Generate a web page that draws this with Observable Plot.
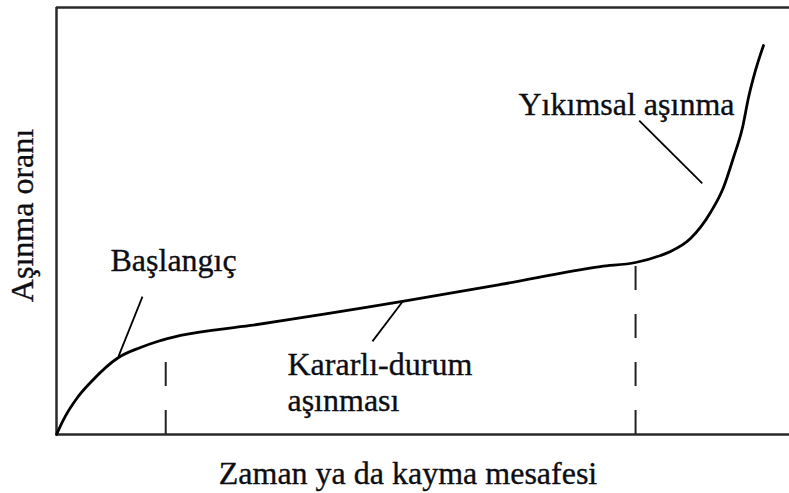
<!DOCTYPE html>
<html>
<head>
<meta charset="utf-8">
<script src="https://cdn.jsdelivr.net/npm/d3@7"></script>
<script src="https://cdn.jsdelivr.net/npm/@observablehq/plot@0.6"></script>
<style>
  html, body { margin: 0; padding: 0; background: #fff; }
  #chart svg { display: block; }
</style>
</head>
<body>
<div id="chart"></div>
<script>
// Wear curve: running-in, steady-state and severe wear (relative units)
const wearX = [0, 0.82, 2.86, 4.64, 8.46, 11.46, 13.78, 16.92, 26.47, 47.2, 60.57, 74.22, 79.0, 82.4, 83.77, 86.49, 89.22, 90.99, 92.36, 93.59, 94.41, 95.36, 96.45];
const wearY = [0, 3.04, 8.67, 12.18, 18.03, 20.37, 21.78, 23.19, 25.53, 31.15, 35.13, 39.34, 40.28, 41.92, 42.86, 45.9, 51.99, 57.85, 64.87, 71.9, 78.92, 85.25, 91.1];

// Phase boundaries (dashed verticals) and the curve height there
const boundaryX = [14.9, 79.0];
const boundaryTop = [22.2, 40.28];

// Phase labels
const phaseLabels = ["Başlangıç", "Yıkımsal aşınma", "Kararlı-durum\naşınması"];
const phaseLabelX = [7.37, 63.03, 31.51];
const phaseLabelY = [44.19, 80.73, 19.84];

// Leader lines from each label to the curve
const leaderX1 = [11.73, 79.5, 47.2];
const leaderY1 = [32.3, 73.5, 31.1];
const leaderX2 = [8.46, 88.1, 43.1];
const leaderY2 = [18.3, 58.8, 21.8];

const xTitle = "Zaman ya da kayma mesafesi";
const yTitle = "Aşınma oranı";

const curve = wearX.map((x, i) => ({x, y: wearY[i]}));
const bounds = boundaryX.map((x, i) => ({x, top: boundaryTop[i]}));
const labels = phaseLabels.map((t, i) => ({t, x: phaseLabelX[i], y: phaseLabelY[i]}));
const leaders = leaderX1.map((x1, i) => ({x1, y1: leaderY1[i], x2: leaderX2[i], y2: leaderY2[i]}));

const ink = "#0d0d14";
const serif = "Liberation Serif";
const textStyle = {fontSize: 32, fontFamily: serif, fill: ink, stroke: ink, strokeWidth: 0.35};

const chart = Plot.plot({
  width: 789,
  height: 493,
  marginLeft: 56,
  marginRight: 0,
  marginTop: 7,
  marginBottom: 59,
  style: {background: "#fff"},
  x: {domain: [0, 100], axis: null},
  y: {domain: [0, 100], axis: null},
  marks: [
    // frame: left, bottom and top edges
    Plot.ruleX([0], {stroke: "#2a2a2a", strokeWidth: 2.5}),
    Plot.ruleY([0], {stroke: "#2a2a2a", strokeWidth: 2.5}),
    Plot.ruleY([100], {stroke: "#2a2a2a", strokeWidth: 2.5}),
    // dashed phase boundaries, drawn upward from the baseline
    Plot.ruleX(bounds, {x: "x", y1: 0, y2: "top", stroke: "#222", strokeWidth: 2, strokeDasharray: "24,24"}),
    // wear curve
    Plot.line(curve, {x: "x", y: "y", curve: "monotone-x", stroke: "#000", strokeWidth: 2.8}),
    // leaders
    Plot.link(leaders, {x1: "x1", y1: "y1", x2: "x2", y2: "y2", stroke: "#000", strokeWidth: 1.8}),
    // phase labels
    Plot.text(labels, {x: "x", y: "y", text: "t", textAnchor: "start", lineAnchor: "top", lineHeight: 1.125, ...textStyle}),
    // axis titles
    Plot.text([xTitle], {frameAnchor: "bottom", textAnchor: "middle", lineAnchor: "middle", dx: -15, dy: 39, ...textStyle}),
    Plot.text([yTitle], {frameAnchor: "left", textAnchor: "middle", lineAnchor: "middle", rotate: -90, dx: -34, dy: -5.5, ...textStyle})
  ]
});

document.getElementById("chart").appendChild(chart);
</script>
</body>
</html>
